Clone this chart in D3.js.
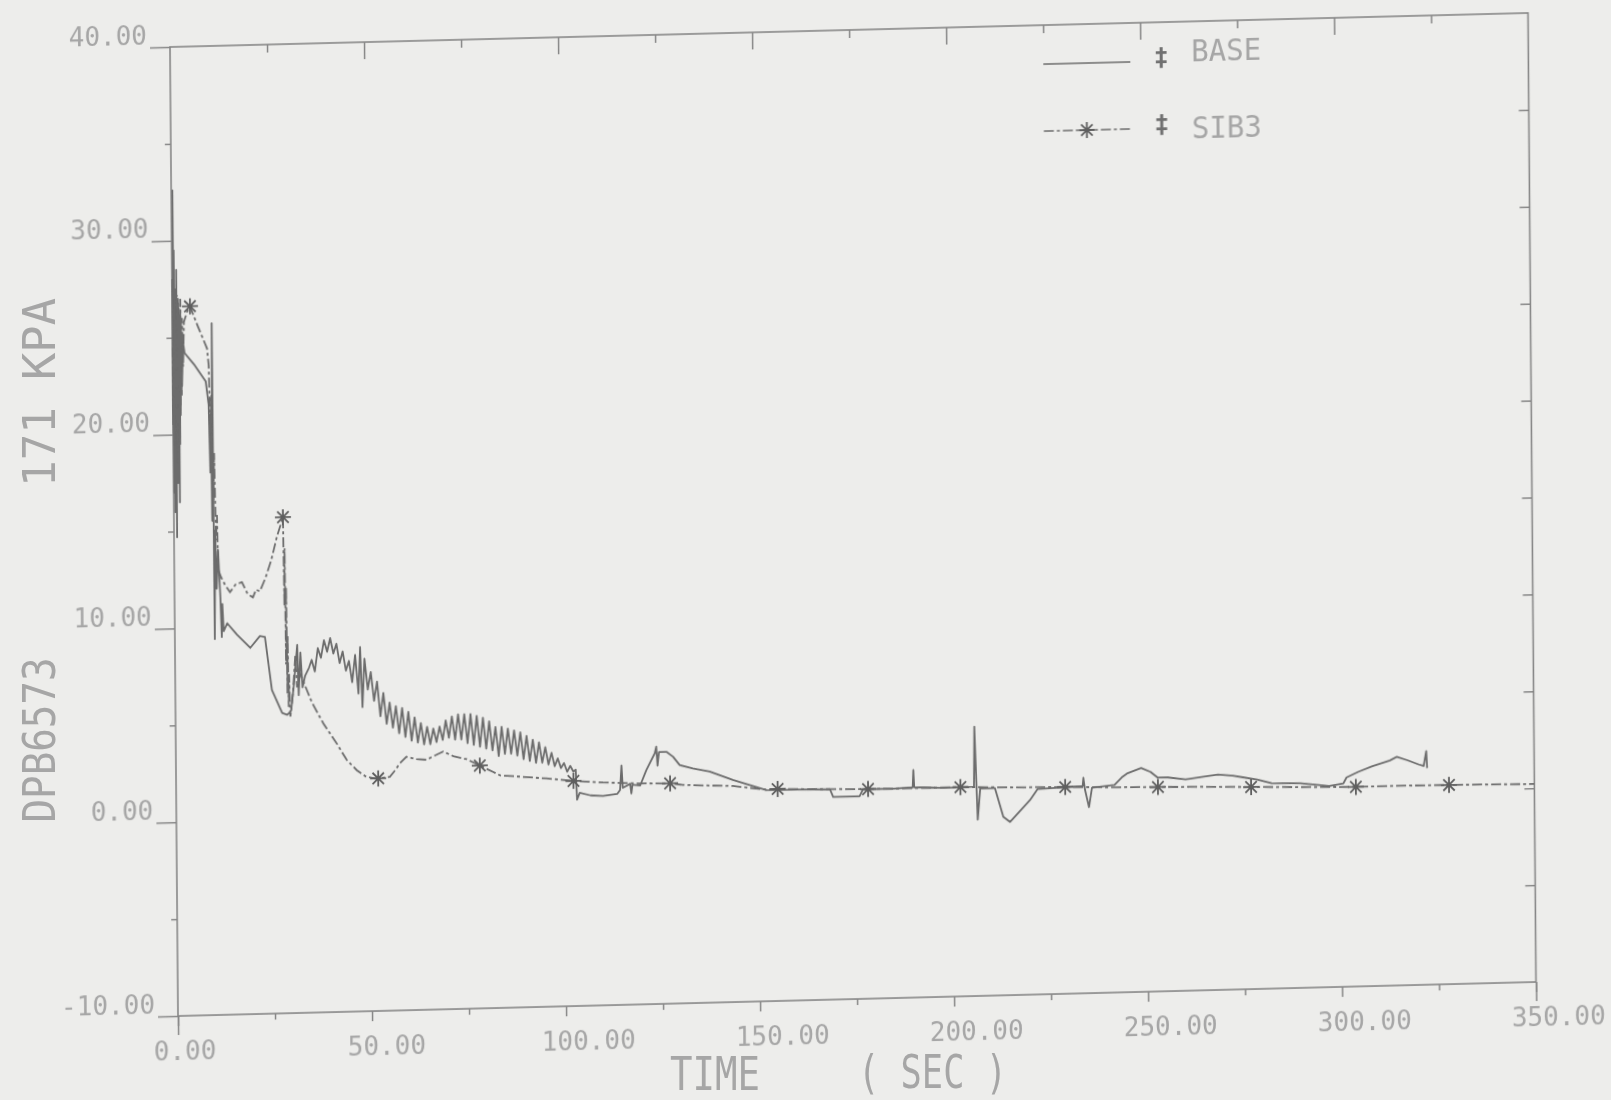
<!DOCTYPE html>
<html>
<head>
<meta charset="utf-8">
<script src="https://cdnjs.cloudflare.com/ajax/libs/d3/7.8.5/d3.min.js"></script>
<style>
  html, body { margin: 0; padding: 0; background: #ececea; }
  svg { display: block; }
  text { font-family: "DejaVu Sans Mono", monospace; }
</style>
</head>
<body>
<div id="chart"></div>
<script>
// values: [time (s), DPB6573 (kPa)]
var basePts = [
  [0.0,20.5],[0.1,28.0],[0.2,17.0],[0.3,32.6],[0.4,16.0],[0.5,29.5],[0.6,18.5],[0.7,27.5],
  [0.8,14.7],[0.9,26.0],[1.0,19.0],[1.1,28.5],[1.2,17.5],[1.3,25.5],[1.4,20.0],[1.5,27.0],
  [1.6,16.5],[1.7,26.5],[1.8,19.5],[1.9,25.0],[2.0,21.0],[2.2,26.0],[2.4,22.5],[2.7,24.8],
  [3.1,24.2],[5.5,23.6],[8.5,22.7],[9.2,21.5],[9.5,18.0],[9.7,21.0],[9.9,15.5],[10.15,25.7],
  [10.3,9.4],[10.6,15.0],[10.9,12.0],[11.3,14.0],[11.8,11.6],[12.1,9.5],[12.3,11.2],[12.6,9.8],
  [13.5,10.2],[16.0,9.6],[19.4,8.9],[21.9,9.5],[23.2,9.45],[24.9,6.7],[27.5,5.5],[28.8,5.4],
  [29.8,5.6],[30.6,7.0],[31.5,9.0],[31.8,6.4],[32.3,8.6],[32.8,6.8],[33.5,7.4],[34.5,7.8],
  [35.2,8.2],[36.0,7.6],[36.8,8.8],[37.6,8.3],[38.4,9.2],[39.2,8.6],[40.0,9.3],[40.8,8.5],
  [41.6,9.0],[42.4,8.0],[43.2,8.6],[44.0,7.6],[44.8,8.1],[45.6,7.0],[46.4,8.4],[47.2,6.4],
  [47.7,8.8],[48.2,5.7],[48.8,8.2],[49.6,6.6],[50.4,7.5],[51.2,6.0],[52.0,7.0],[52.8,5.2],
  [53.6,6.4],[54.4,4.8],[55.2,5.9],[56.0,4.6],[56.8,5.7],[57.6,4.3],[58.4,5.6],[59.2,4.1],
  [60.0,5.4],[60.8,3.9],[61.6,5.1],[62.4,3.8],[63.2,4.8],[64.0,3.7],[64.8,4.6],[65.6,3.7],
  [66.4,4.5],[67.2,3.8],[68.0,4.6],[68.8,3.9],[69.6,4.9],[70.4,4.0],[71.2,5.1],[72.0,3.9],
  [72.8,5.2],[73.6,3.9],[74.4,5.2],[75.2,3.7],[76.0,5.2],[76.8,3.6],[77.6,5.1],[78.4,3.5],
  [79.2,5.0],[80.0,3.4],[80.8,4.8],[81.6,3.3],[82.4,4.5],[83.2,3.0],[84.0,4.5],[84.8,3.1],
  [85.6,4.4],[86.4,3.1],[87.2,4.3],[88.0,3.0],[88.8,4.2],[89.6,2.8],[90.4,4.0],[91.2,2.7],
  [92.0,3.8],[92.8,2.6],[93.6,3.65],[94.4,2.6],[95.2,3.4],[96.0,2.5],[96.8,3.1],[97.6,2.4],
  [98.4,2.8],[99.2,2.3],[100.0,2.55],[100.8,2.1],[101.6,2.4],[102.4,2.1],[103.0,2.2],[103.3,0.65],
  [104.0,1.0],[106.8,0.85],[110.0,0.8],[113.7,0.9],[114.4,1.1],[114.8,2.35],[115.1,1.2],[117.0,1.4],
  [117.3,0.9],[117.6,1.35],[119.6,1.3],[121.2,2.08],[123.4,2.94],[123.8,3.28],[124.1,2.3],[124.5,3.0],
  [126.4,3.0],[128.1,2.74],[129.8,2.3],[133.2,2.11],[137.5,1.93],[143.5,1.46],[152.1,0.9],[160.0,0.88],
  [168.5,0.85],[169.3,0.46],[176.1,0.46],[177.0,0.82],[185.0,0.8],[189.8,0.85],[190.0,1.74],[190.2,0.85],
  [198.0,0.78],[205.6,0.8],[205.8,3.9],[206.5,-0.9],[207.2,0.7],[211.0,0.7],[213.1,-0.79],[214.8,-1.06],
  [220.0,0.04],[222.0,0.6],[228.0,0.65],[233.6,0.7],[233.8,1.12],[234.2,0.5],[235.2,-0.4],[236.0,0.6],
  [241.8,0.71],[243.7,1.09],[245.0,1.28],[248.7,1.55],[251.1,1.34],[252.9,1.04],[255.6,1.03],[260.1,0.91],
  [264.8,1.02],[268.5,1.11],[272.3,1.04],[274.9,0.94],[278.6,0.81],[282.3,0.6],[289.7,0.56],[297.1,0.38],
  [300.8,0.5],[301.6,0.8],[304.6,1.07],[308.3,1.35],[312.8,1.62],[314.6,1.8],[317.3,1.61],[320.2,1.38],
  [321.5,1.29],[322.2,2.06],[322.4,1.18]
];

var sib3Pts = [
  [0.0,24.5],[0.15,20.0],[0.3,26.5],[0.45,19.5],[0.6,27.0],[0.75,21.0],[0.9,26.0],[1.05,18.5],
  [1.2,27.2],[1.35,20.5],[1.5,26.8],[1.65,19.8],[1.8,26.2],[1.95,21.5],[2.1,27.0],[2.3,22.0],
  [2.5,26.0],[2.7,23.5],[3.0,25.8],[3.8,26.3],[4.6,26.6],[6.5,25.6],[8.9,24.4],[9.3,23.5],
  [9.6,19.5],[9.9,22.0],[10.2,16.5],[10.5,19.0],[10.8,14.5],[11.1,15.8],[11.3,13.0],[12.0,12.6],
  [13.0,12.2],[14.3,11.8],[15.8,12.2],[17.4,12.3],[18.8,11.7],[20.2,11.5],[21.0,11.9],[22.0,11.8],
  [23.5,12.5],[25.0,13.4],[26.5,14.6],[28.1,15.6],[28.3,11.0],[28.45,14.0],[28.6,8.0],[28.75,12.0],
  [28.9,6.5],[29.05,9.5],[29.2,5.8],[29.35,7.5],[29.6,5.3],[30.3,6.5],[31.0,8.5],[31.4,6.8],
  [32.0,7.6],[33.4,6.9],[35.2,6.0],[36.5,5.5],[38.1,4.9],[41.5,3.85],[44.0,3.0],[46.6,2.45],
  [49.0,2.1],[51.3,2.0],[52.1,2.0],[55.1,2.07],[56.5,2.4],[57.7,2.75],[59.4,3.08],[62.0,2.95],
  [64.6,2.9],[66.3,3.07],[68.9,3.3],[71.5,3.05],[74.9,2.88],[78.3,2.53],[81.8,2.18],[83.5,2.0],
  [89.0,1.9],[95.5,1.78],[102.4,1.62],[110.0,1.5],[119.6,1.4],[127.3,1.37],[130.6,1.27],[143.5,1.15],
  [152.1,0.92],[155.0,0.94],[165.0,0.88],[178.3,0.82],[190.0,0.8],[202.1,0.8],[215.0,0.72],[229.1,0.67],
  [240.0,0.6],[253.0,0.55],[265.0,0.5],[277.0,0.43],[290.0,0.36],[304.0,0.3],[316.0,0.3],[328.0,0.28],
  [340.0,0.25],[350.0,0.22]
];

// times at which the SIB3 curve carries an asterisk
var sib3Marks = [4.6, 28.1, 52.1, 78.3, 102.4, 127.3, 155.0, 178.3, 202.1, 229.1, 253.0, 277.0, 304.0, 328.0];

var xMajor = [0, 50, 100, 150, 200, 250, 300, 350];
var xMinor = [25, 75, 125, 175, 225, 275, 325];
var yMajor = [-10, 0, 10, 20, 30, 40];
var yMinor = [-5, 5, 15, 25, 35];

var seriesNames = ["BASE", "SIB3"];

var W = 1358, H = 969;
var ink = "#6c6c6c", frameInk = "#878787", textInk = "#a6a6a6";

var x = d3.scaleLinear().domain([0, 350]).range([0, W]);
var y = d3.scaleLinear().domain([-10, 40]).range([H, 0]);

var svg = d3.select("#chart").append("svg")
    .attr("width", 1611)
    .attr("height", 1100);

svg.append("rect").attr("width", 1611).attr("height", 1100).attr("fill", "#ededeb");

var defs = svg.append("defs");
defs.append("filter").attr("id", "soft")
    .append("feGaussianBlur").attr("stdDeviation", 0.55);

// the scanned page is slightly sheared, so the whole frame is too
var g = svg.append("g")
    .attr("filter", "url(#soft)")
    .attr("transform", "matrix(1,-0.02504,0.008256,1,170,47)");

g.append("rect")
    .attr("width", W).attr("height", H)
    .attr("fill", "none")
    .attr("stroke", frameInk)
    .attr("stroke-width", 1.6);

function styleAxis(sel) {
  sel.select(".domain").remove();
  sel.selectAll(".tick line").attr("stroke", frameInk).attr("stroke-width", 1.5);
}

var fmt = function(d) { return d.toFixed(2); };

// left axis
g.append("g")
    .call(d3.axisLeft(y).tickValues(yMajor).tickSize(20).tickFormat(fmt))
    .call(styleAxis)
    .call(function(sel) {
      sel.selectAll(".tick text")
        .attr("x", -23).attr("y", -4).attr("dy", 0)
        .attr("text-anchor", "end")
        .attr("fill", textInk)
        .style("font-size", "26px");
    });
g.append("g")
    .call(d3.axisLeft(y).tickValues(yMinor).tickSize(6).tickFormat(""))
    .call(styleAxis);

// right axis, ticks pointing inward
g.append("g")
    .attr("transform", "translate(" + W + ",0)")
    .call(d3.axisLeft(y).tickValues(yMinor.concat(yMajor.slice(1, 5))).tickSize(10).tickFormat(""))
    .call(styleAxis);

// top axis, ticks pointing inward
g.append("g")
    .call(d3.axisBottom(x).tickValues(xMajor.slice(1, 7)).tickSize(17).tickFormat(""))
    .call(styleAxis);
g.append("g")
    .call(d3.axisBottom(x).tickValues(xMinor).tickSize(8).tickFormat(""))
    .call(styleAxis);

// bottom axis
var bottom = g.append("g").attr("transform", "translate(0," + H + ")");
bottom.append("g")
    .call(d3.axisBottom(x).tickValues(xMajor).tickSize(10).tickFormat(fmt))
    .call(styleAxis)
    .call(function(sel) {
      sel.selectAll(".tick text")
        .attr("x", -25).attr("y", 44).attr("dy", 0)
        .attr("text-anchor", "start")
        .attr("fill", textInk)
        .style("font-size", "26px");
    });
bottom.append("g")
    .call(d3.axisBottom(x).tickValues([0, 350]).tickSize(19).tickFormat(""))
    .call(styleAxis);
bottom.append("g")
    .call(d3.axisBottom(x).tickValues(xMinor).tickSize(6).tickFormat(""))
    .call(styleAxis);

// curves
var line = d3.line()
    .x(function(d) { return x(d[0]); })
    .y(function(d) { return y(d[1]); });

g.append("path")
    .datum(basePts)
    .attr("fill", "none")
    .attr("stroke", ink)
    .attr("stroke-width", 1.8)
    .attr("stroke-linejoin", "round")
    .attr("d", line);

g.append("path")
    .datum(sib3Pts)
    .attr("fill", "none")
    .attr("stroke", ink)
    .attr("stroke-width", 1.8)
    .attr("stroke-dasharray", "10,3,3,3")
    .attr("d", line);

var star = "M-8,0H8M0,-8V8M-5.7,-5.7L5.7,5.7M-5.7,5.7L5.7,-5.7";

g.selectAll(".mark")
    .data(sib3Pts.filter(function(d) { return sib3Marks.indexOf(d[0]) > -1; }))
    .enter().append("path")
    .attr("class", "mark")
    .attr("d", star)
    .attr("transform", function(d) { return "translate(" + x(d[0]) + "," + y(d[1]) + ")"; })
    .attr("fill", "none")
    .attr("stroke", "#5e5e5e")
    .attr("stroke-width", 1.8);

// legend
var legend = g.append("g");
var rows = [
  {name: seriesNames[0], ly: 39, ty: 40, dash: null},
  {name: seriesNames[1], ly: 106, ty: 117, dash: "10,3,3,3"}
];
rows.forEach(function(r) {
  legend.append("line")
      .attr("x1", 873).attr("x2", 960)
      .attr("y1", r.ly).attr("y2", r.ly)
      .attr("stroke", ink).attr("stroke-width", 1.6)
      .attr("stroke-dasharray", r.dash);
  legend.append("text")
      .attr("x", 991).attr("y", r.ly + 4)
      .attr("text-anchor", "middle")
      .attr("fill", "#707070")
      .style("font-size", "24px")
      .style("font-weight", "bold")
      .text("\u2021");
  legend.append("text")
      .attr("x", 1021).attr("y", r.ty)
      .attr("fill", textInk)
      .style("font-size", "31px")
      .attr("textLength", 70)
      .attr("lengthAdjust", "spacingAndGlyphs")
      .text(r.name);
});
legend.append("path")
    .attr("d", star)
    .attr("transform", "translate(916,106)")
    .attr("fill", "none")
    .attr("stroke", "#5e5e5e")
    .attr("stroke-width", 1.8);

// axis titles (page coordinates)
var titles = svg.append("g").attr("filter", "url(#soft)").attr("fill", textInk);
titles.append("text")
    .attr("x", 670).attr("y", 1090)
    .style("font-size", "46px")
    .attr("textLength", 90).attr("lengthAdjust", "spacingAndGlyphs")
    .text("TIME");
titles.append("text")
    .attr("x", 858).attr("y", 1088)
    .style("font-size", "46px")
    .attr("textLength", 149).attr("lengthAdjust", "spacingAndGlyphs")
    .text("( SEC )");

var yTitle = [
  {t: "DPB6573", cy: 740, len: 165},
  {t: "171", cy: 447, len: 80},
  {t: "KPA", cy: 339, len: 82}
];
titles.selectAll(".ytitle")
    .data(yTitle)
    .enter().append("text")
    .attr("class", "ytitle")
    .attr("transform", function(d) { return "translate(55," + d.cy + ") rotate(-90)"; })
    .attr("text-anchor", "middle")
    .style("font-size", "44px")
    .attr("textLength", function(d) { return d.len; })
    .attr("lengthAdjust", "spacingAndGlyphs")
    .text(function(d) { return d.t; });
</script>
</body>
</html>
